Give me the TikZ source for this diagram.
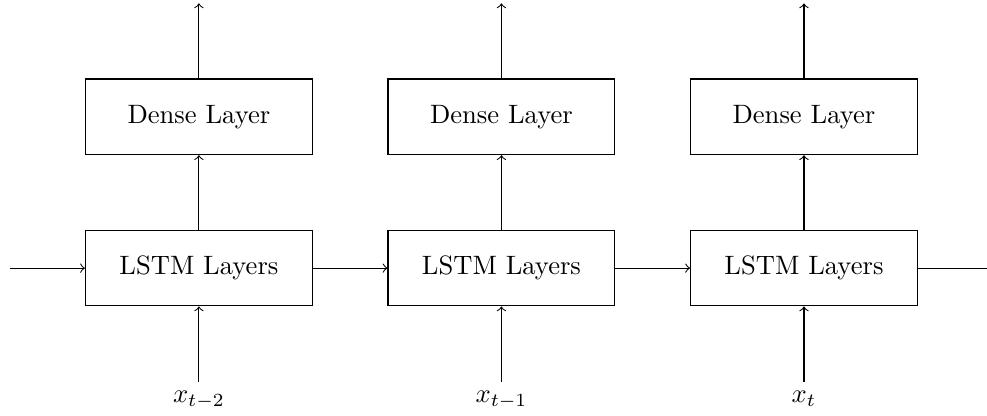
\documentclass[tikz,border=0pt]{standalone}
\usepackage{amsmath}
\begin{document}
\begin{tikzpicture}[layerbox/.style={draw, minimum width=3cm, minimum height=1cm}]
\useasboundingbox (-2.63,-1.945) rectangle (10.42,3.545);
\node[layerbox] (lstmA) at (0,0) {LSTM Layers};
\node[layerbox] (lstmB) at (4,0) {LSTM Layers};
\node[layerbox] (lstmC) at (8,0) {LSTM Layers};
\node[layerbox] (denseA) at (0,2) {Dense Layer};
\node[layerbox] (denseB) at (4,2) {Dense Layer};
\node[layerbox] (denseC) at (8,2) {Dense Layer};
\node[anchor=north] (inA) at (0,-1.5) {$x_{t-2}$};
\node[anchor=north] (inB) at (4,-1.5) {$x_{t-1}$};
\node[anchor=north] (inC) at (8,-1.5) {$x_{t}$};
\coordinate (outA) at (0,3.5);
\coordinate (outB) at (4,3.5);
\coordinate (outC) at (8,3.5);
\coordinate (start) at (-2.5,0);
\coordinate (stop) at (10.5,0);
% recurrent chain
\draw [->] (start) -- (lstmA);
\draw [->] (lstmA) -- (lstmB);
\draw [->] (lstmB) -- (lstmC);
\draw [->] (lstmC) -- (stop);
% inputs
\draw [->] (inA) -- (lstmA);
\draw [->] (inB) -- (lstmB);
\draw [->] (inC) -- (lstmC);
% outputs
\draw [->] (lstmA) -- (denseA);
\draw [->] (lstmB) -- (denseB);
\draw [->] (lstmC) -- (denseC);
\draw [->] (denseA) -- (outA);
\draw [->] (denseB) -- (outB);
\draw [->] (denseC) -- (outC);
\end{tikzpicture}
\end{document}
